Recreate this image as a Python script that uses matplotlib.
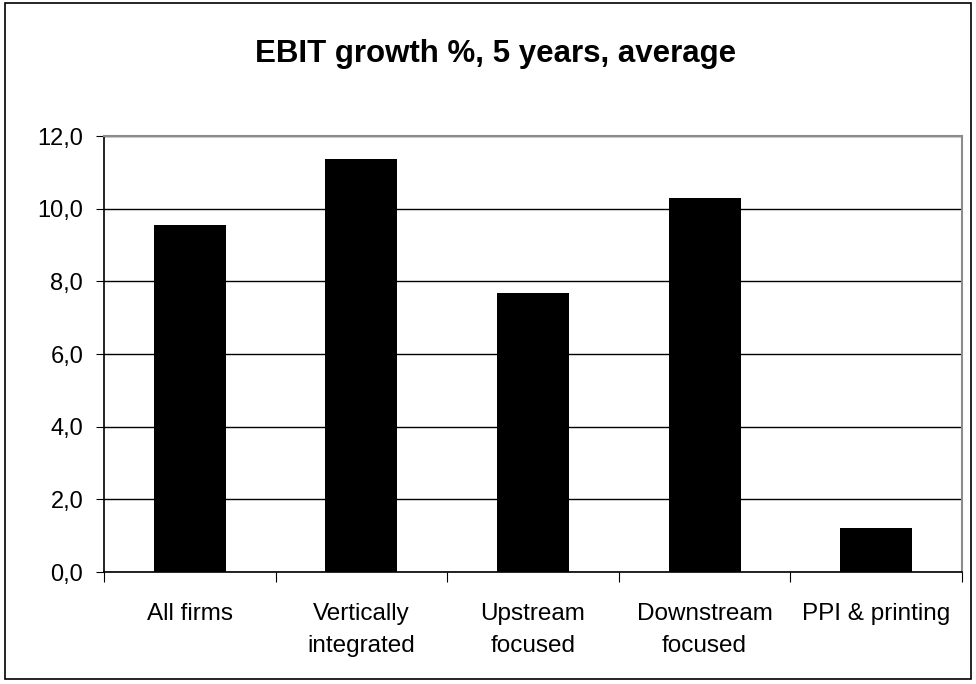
import matplotlib
matplotlib.use("Agg")
from matplotlib import pyplot as plt
from matplotlib.patches import Rectangle
from matplotlib.ticker import FuncFormatter

categories = ["All firms", "Vertically\nintegrated", "Upstream\nfocused",
              "Downstream\nfocused", "PPI & printing"]
values = [9.55, 11.38, 7.68, 10.28, 1.22]
yticks = [0, 2, 4, 6, 8, 10, 12]

plt.rcParams['font.family'] = ['Liberation Sans', 'DejaVu Sans']

fig = plt.figure(figsize=(9.76, 6.84), dpi=100)
ax = fig.add_axes([104 / 976, 1 - 572 / 684, 858 / 976, 436 / 684])

x = list(range(len(categories)))
ax.bar(x, values, width=0.42, color="black", zorder=3)

ax.set_xlim(-0.5, len(categories) - 0.5)
ax.set_ylim(0, 12)
ax.set_yticks(yticks)
ax.yaxis.set_major_formatter(FuncFormatter(lambda v, p: f"{v:.1f}".replace(".", ",")))
ax.grid(axis="y", color="black", linewidth=1, zorder=0)

ax.set_xticks([i - 0.5 for i in range(len(categories) + 1)], minor=False)
ax.set_xticklabels([])
ax.set_xticks(x, minor=True)
ax.set_xticklabels(categories, minor=True, fontsize=17.5, linespacing=1.6)
ax.tick_params(axis="x", which="minor", length=0, pad=22)
ax.tick_params(axis="x", which="major", length=7, direction="out", color="black")
ax.tick_params(axis="y", length=6, direction="out", labelsize=17, pad=9)

for s in ["left", "bottom"]:
    ax.spines[s].set_color("black")
    ax.spines[s].set_linewidth(1.2)
for s in ["top", "right"]:
    ax.spines[s].set_color("#8c8c8c")
    ax.spines[s].set_linewidth(1.5)

fig.text(0.508, 1 - 54 / 684, "EBIT growth %, 5 years, average",
         ha="center", va="center", fontsize=22.5, weight="bold")

fig.patches.append(Rectangle((5 / 976, 5 / 684), 966 / 976, 676 / 684,
                             transform=fig.transFigure, fill=False,
                             edgecolor="black", linewidth=1.2))

fig.savefig("out.png", dpi=100)
